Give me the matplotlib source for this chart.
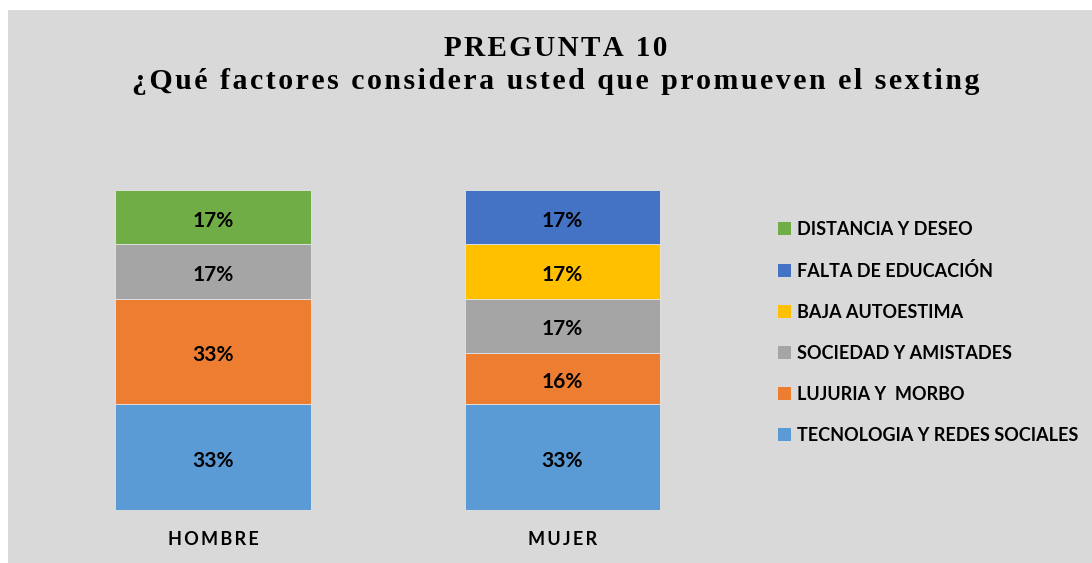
import matplotlib.pyplot as plt
from matplotlib.patches import Rectangle, Patch

# data
groups = ["HOMBRE", "MUJER"]
factors = ["TECNOLOGIA Y REDES SOCIALES", "LUJURIA Y  MORBO", "SOCIEDAD Y AMISTADES",
           "BAJA AUTOESTIMA", "FALTA DE EDUCACIÓN", "DISTANCIA Y DESEO"]
hombre = [33, 33, 17, 0, 0, 17]
mujer = [33, 16, 17, 17, 17, 0]
colors = ["#5B9BD5", "#ED7D31", "#A5A5A5", "#FFC000", "#4472C4", "#70AD47"]

title1 = "PREGUNTA 10"
title2 = "¿Qué factores considera usted que promueven el sexting"


def spaced(s, sep="\u200a"):
    return sep.join(s)


W, H = 1092, 563
fig = plt.figure(figsize=(W / 100, H / 100), dpi=100)
fig.patch.set_facecolor("white")
fig.patches.append(Rectangle((8 / W, 0), 1 - 8 / W, 1 - 10 / H, transform=fig.transFigure,
                             facecolor="#D9D9D9", edgecolor="none", zorder=-5))

ax = fig.add_axes([38.25 / W, 53 / H, 699 / W, 320 / H])
ax.set_facecolor("none")
ax.set_xlim(-0.5, 1.5)
ax.set_ylim(0, 100)
ax.axis("off")

sans = ["Lato", "DejaVu Sans"]
serif = ["Liberation Serif", "DejaVu Serif"]

series = [hombre, mujer]
for i, vals in enumerate(series):
    bottom = 0
    for j, v in enumerate(vals):
        if v > 0:
            ax.bar(i, v, bottom=bottom, width=0.558, color=colors[j],
                   edgecolor="#E4E4E4", linewidth=0.6)
            ax.text(i, bottom + v / 2 - 2.95, f"{v}%", ha="center", va="baseline",
                    fontsize=15, fontweight="bold", family=sans, color="black")
        bottom += v
    ax.text(i, -0.109, spaced(groups[i], "\u2009"), transform=ax.get_xaxis_transform(),
            ha="center", va="baseline", fontsize=13, fontweight="bold",
            family=sans, color="black")

handles = [Patch(facecolor=colors[j], edgecolor="none", label=factors[j])
           for j in range(len(factors) - 1, -1, -1)]
fig.legend(handles=handles, loc="upper left", bbox_to_anchor=(778 / W, 1 - 221 / H),
           frameon=False, handlelength=0.7, handleheight=0.7, handletextpad=0.35,
           labelspacing=1.33, borderpad=0, borderaxespad=0,
           prop={"family": sans, "weight": "bold", "size": 13})

fig.text(556 / W, 1 - 56 / H, spaced(title1), ha="center", va="baseline",
         fontsize=21, fontweight="bold", family=serif)
fig.text(556 / W, 1 - 89 / H, spaced(title2), ha="center", va="baseline",
         fontsize=21.5, fontweight="bold", family=serif)

fig.savefig("out.png", dpi=100)
